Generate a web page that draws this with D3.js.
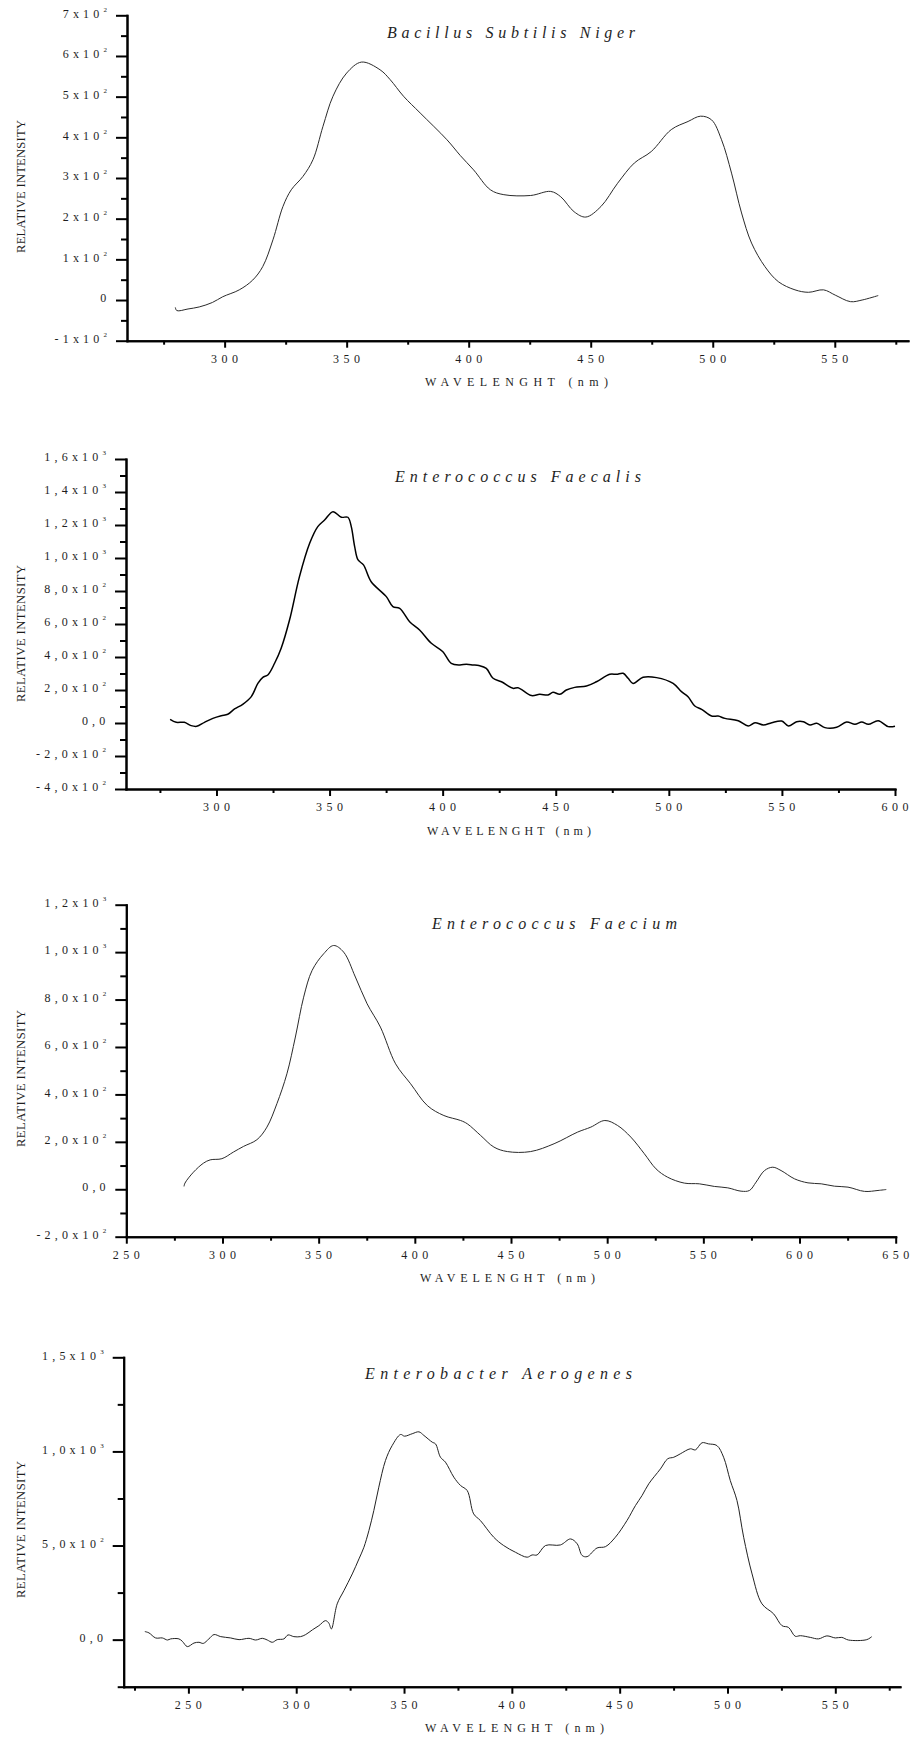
<!DOCTYPE html>
<html>
<head>
<meta charset="utf-8">
<script src="https://cdn.jsdelivr.net/npm/d3@7"></script>
<style>
  body { margin: 0; background: #fff; }
  svg { display: block; background: #fff; }
</style>
</head>
<body>
<svg id="chart" width="921" height="1739"></svg>
<script>
// ---------- Fluorescence emission spectra (wavelength in nm, relative intensity) ----------

// Bacillus Subtilis Niger
const bacillusWl = [279.8, 280.4, 285, 289.6, 295, 299.2, 306, 311.5, 315.6, 319.8, 323.9, 327.3, 332.1, 336.2, 340.3, 344.4, 350, 356.1, 363.7, 367.8, 373.3, 380.1, 391.1, 396.6, 402, 408.9, 414.4, 425.4, 433.6, 437.7, 443.2, 448, 454.2, 461, 467.9, 474.8, 483, 489.9, 495, 499.5, 503.6, 507.7, 511.8, 515.9, 521.4, 526.9, 533.7, 539.2, 545.4, 550.2, 556.4, 561.2, 567.8];
const bacillusI  = [-18, -26, -22, -17, -6, 8, 25, 49, 82, 148, 230, 271, 304, 345, 427, 501, 558, 585, 566, 542, 501, 460, 394, 355, 320, 271, 259, 257, 267, 254, 217, 204, 230, 287, 337, 365, 419, 439, 452, 443, 394, 312, 214, 140, 82, 45, 25, 19, 25, 12, -4, 0, 11];

// Enterococcus Faecalis
const faecalisWl = [279.5, 282.2, 285.8, 288.8, 291.3, 294.7, 298.4, 302.1, 305, 308, 311.6, 315.4, 318.3, 320.5, 322.7, 325.7, 328.6, 332.3, 336.7, 341.2, 344.8, 347.8, 351.5, 355.2, 358.1, 359.6, 361.1, 362.6, 365, 368.4, 375.1, 378, 381, 385.4, 389.8, 395, 400.1, 403.8, 407.5, 410.5, 413.4, 416, 419.3, 422.3, 426, 431.1, 433.3, 439.3, 442.9, 446.6, 448.8, 451.8, 454.7, 458.4, 463.6, 468, 473.9, 476.9, 479.8, 482, 484.2, 488.6, 494.6, 501.9, 505.6, 508.5, 511.5, 514.5, 518.9, 521.8, 524.8, 530.7, 535.1, 538.1, 541.8, 545.5, 549.9, 552.9, 556.5, 559.5, 562.4, 565.4, 569, 574.2, 578.6, 582.3, 585.3, 588.2, 592.6, 597, 600];
const faecalisI  = [22, 4, 4, -16, -20, 4, 28, 44, 53, 85, 113, 160, 240, 277, 291, 362, 453, 624, 887, 1089, 1190, 1230, 1281, 1247, 1247, 1190, 1069, 988, 958, 856, 766, 705, 695, 614, 564, 483, 432, 362, 352, 356, 352, 348, 331, 271, 250, 210, 214, 166, 174, 170, 186, 174, 200, 216, 224, 250, 295, 295, 301, 271, 240, 277, 275, 240, 190, 159, 103, 83, 42, 42, 28, 14, -18, 2, -12, 2, 12, -18, 8, 8, -12, -2, -28, -26, 6, -8, 6, -8, 14, -22, -20];

// Enterococcus Faecium
const faeciumWl = [280, 280.5, 284.9, 290.1, 293.6, 299.7, 305.7, 311, 317.9, 323.1, 328.3, 333.5, 337.9, 342.2, 346.6, 352.6, 357.8, 363, 369.1, 375.2, 382.1, 390, 397.8, 406.5, 415.1, 423.8, 427.3, 434.2, 441.1, 448.1, 460.2, 472.4, 484.6, 491.5, 498.8, 505.4, 512.3, 519.3, 525.4, 531.4, 540.1, 547.9, 555.7, 562.7, 569.6, 574, 577.4, 581.8, 586.1, 590.4, 597.4, 604.4, 611.3, 618.2, 625.2, 633.8, 640.8, 645.1];
const faeciumI  = [12, 26, 72, 110, 124, 129, 157, 181, 209, 262, 361, 487, 642, 810, 923, 993, 1028, 1000, 895, 782, 684, 529, 445, 353, 311, 290, 276, 227, 178, 159, 159, 192, 241, 262, 290, 269, 220, 150, 86, 51, 26, 23, 12, 6, -8, -5, 30, 79, 93, 79, 44, 27, 23, 13, 9, -9, -5, -1];

// Enterobacter Aerogenes
const aerogenesWl = [229.8, 231.7, 234.8, 237.9, 240.3, 241.8, 245.6, 247.2, 249.5, 252.6, 254.9, 256.9, 259.5, 261.9, 265, 269.6, 273.5, 278.1, 281.2, 284.3, 286.6, 288.9, 291.2, 294.3, 296.2, 298.9, 302, 304.4, 307.5, 310.5, 313.6, 315.1, 316.3, 319, 322.1, 326, 329.1, 331.4, 333.7, 336, 338.3, 341.4, 344.5, 348.4, 350.2, 353.8, 356.9, 359.2, 363.1, 364.6, 366.9, 369.2, 373.1, 376.2, 379.3, 382.3, 385.4, 391.6, 396.2, 401.7, 407.1, 409.4, 411.7, 415.6, 422.5, 427.2, 430.3, 432.6, 434.9, 439.5, 443.4, 448, 453.4, 457.3, 460.4, 463.5, 468.9, 472.3, 475.1, 478.1, 482.8, 485.1, 488.2, 491.2, 495.1, 498.2, 501.3, 504.4, 507.5, 511.4, 516, 521.4, 525.3, 528.3, 531.4, 533.8, 538.4, 542.2, 546.1, 550, 553, 556.1, 564.6, 566.9];
const aerogenesI  = [43, 36, 9, 9, -2, 4, 4, -9, -37, -18, -14, -20, 4, 27, 16, 9, 0, 7, -2, 7, -2, -14, 0, 4, 25, 16, 16, 27, 52, 74, 101, 88, 57, 190, 260, 349, 429, 491, 579, 686, 810, 952, 1031, 1090, 1081, 1094, 1104, 1085, 1049, 1040, 969, 943, 863, 819, 792, 668, 633, 544, 500, 464, 438, 450, 450, 500, 503, 535, 509, 447, 441, 487, 494, 544, 633, 712, 766, 828, 907, 961, 969, 987, 1014, 1008, 1046, 1040, 1031, 969, 845, 739, 544, 349, 190, 137, 74, 65, 18, 21, 12, 4, 20, 9, 12, -2, 0, 16];

// ---------- Axis ticks and tick labels ----------
const bacillusXTicks = [300, 350, 400, 450, 500, 550];
const bacillusXMinor = [275, 325, 375, 425, 475, 525, 575];
const bacillusYTicks = [-100, 0, 100, 200, 300, 400, 500, 600, 700];
const bacillusYMinor = [-50, 50, 150, 250, 350, 450, 550, 650];
const bacillusYLabels = ["-1x10^2", "0", "1x10^2", "2x10^2", "3x10^2", "4x10^2", "5x10^2", "6x10^2", "7x10^2"];

const faecalisXTicks = [300, 350, 400, 450, 500, 550, 600];
const faecalisXMinor = [275, 325, 375, 425, 475, 525, 575];
const faecalisYTicks = [-400, -200, 0, 200, 400, 600, 800, 1000, 1200, 1400, 1600];
const faecalisYMinor = [-300, -100, 100, 300, 500, 700, 900, 1100, 1300, 1500];
const faecalisYLabels = ["-4,0x10^2", "-2,0x10^2", "0,0", "2,0x10^2", "4,0x10^2", "6,0x10^2", "8,0x10^2", "1,0x10^3", "1,2x10^3", "1,4x10^3", "1,6x10^3"];

const faeciumXTicks = [250, 300, 350, 400, 450, 500, 550, 600, 650];
const faeciumXMinor = [275, 325, 375, 425, 475, 525, 575, 625];
const faeciumYTicks = [-200, 0, 200, 400, 600, 800, 1000, 1200];
const faeciumYMinor = [-100, 100, 300, 500, 700, 900, 1100];
const faeciumYLabels = ["-2,0x10^2", "0,0", "2,0x10^2", "4,0x10^2", "6,0x10^2", "8,0x10^2", "1,0x10^3", "1,2x10^3"];

const aerogenesXTicks = [250, 300, 350, 400, 450, 500, 550];
const aerogenesXMinor = [225, 275, 325, 375, 425, 475, 525, 575];
const aerogenesYTicks = [0, 500, 1000, 1500];
const aerogenesYMinor = [-250, 250, 750, 1250];
const aerogenesYLabels = ["0,0", "5,0x10^2", "1,0x10^3", "1,5x10^3"];

const titles = ["Bacillus Subtilis Niger", "Enterococcus Faecalis", "Enterococcus Faecium", "Enterobacter Aerogenes"];
const xAxisTitle = "WAVELENGHT (nm)";
const yAxisTitle = "RELATIVE INTENSITY";

// ---------- Panel layout ----------
const panels = [
  { title: titles[0], wl: bacillusWl, val: bacillusI,
    xDomain: [260, 580], yDomain: [-100, 700],
    xTicks: bacillusXTicks, xMinor: bacillusXMinor, yTicks: bacillusYTicks, yMinor: bacillusYMinor, yLabels: bacillusYLabels,
    left: 127, right: 908, top: 15.3, bottom: 340.7,
    titleX: 387, titleY: 37.5, titleW: 248,
    xTitleX: 425, xTitleW: 183, yTitleBottom: 253, yTitleW: 133,
    stroke: "#2a2a2a", width: 1 },
  { title: titles[1], wl: faecalisWl, val: faecalisI,
    xDomain: [260, 600], yDomain: [-400, 1600],
    xTicks: faecalisXTicks, xMinor: faecalisXMinor, yTicks: faecalisYTicks, yMinor: faecalisYMinor, yLabels: faecalisYLabels,
    left: 126, right: 895, top: 459, bottom: 789,
    titleX: 395, titleY: 481.5, titleW: 246,
    xTitleX: 427, xTitleW: 164, yTitleBottom: 702, yTitleW: 137,
    stroke: "#000", width: 1.5 },
  { title: titles[2], wl: faeciumWl, val: faeciumI,
    xDomain: [250, 650], yDomain: [-200, 1200],
    xTicks: faeciumXTicks, xMinor: faeciumXMinor, yTicks: faeciumYTicks, yMinor: faeciumYMinor, yLabels: faeciumYLabels,
    left: 126.3, right: 895.7, top: 904.7, bottom: 1236.7,
    titleX: 432, titleY: 929, titleW: 245,
    xTitleX: 420, xTitleW: 175, yTitleBottom: 1147, yTitleW: 137,
    stroke: "#2a2a2a", width: 1 },
  { title: titles[3], wl: aerogenesWl, val: aerogenesI,
    xDomain: [220, 580], yDomain: [-250, 1500],
    xTicks: aerogenesXTicks, xMinor: aerogenesXMinor, yTicks: aerogenesYTicks, yMinor: aerogenesYMinor, yLabels: aerogenesYLabels,
    left: 123.7, right: 900, top: 1357.3, bottom: 1686.7,
    titleX: 365, titleY: 1379, titleW: 267,
    xTitleX: 425, xTitleW: 179, yTitleBottom: 1598, yTitleW: 137,
    stroke: "#222", width: 1 }
];

const SERIF = "'Liberation Serif', 'Times New Roman', Times, serif";
const SANS = "'Liberation Sans', Arial, Helvetica, sans-serif";
const INK = "#1e1e1e";

const svg = d3.select("#chart");

// spread letters so the visible run of text covers the given width
function fitWidth(sel, target) {
  const node = sel.node();
  const natural = node.getComputedTextLength();
  const n = sel.text().length;
  const ls = (target - natural) / Math.max(1, n - 1);
  sel.style("letter-spacing", ls + "px");
}

function styleAxis(g) {
  g.select(".domain").attr("stroke", "#000").attr("stroke-width", 2).attr("stroke-linecap", "square");
  g.selectAll(".tick line").attr("stroke", "#000").attr("stroke-width", 2);
  g.selectAll(".tick text").remove();
}

panels.forEach(p => {
  const x = d3.scaleLinear().domain(p.xDomain).range([p.left, p.right]);
  const y = d3.scaleLinear().domain(p.yDomain).range([p.bottom, p.top]);
  const g = svg.append("g");

  // spectrum line
  const pts = p.wl.map((w, i) => [w, p.val[i]]);
  g.append("path")
    .datum(pts)
    .attr("fill", "none")
    .attr("stroke", p.stroke)
    .attr("stroke-width", p.width)
    .attr("stroke-linejoin", "round")
    .attr("d", d3.line().x(d => x(d[0])).y(d => y(d[1])).curve(d3.curveCatmullRom.alpha(0.5)));

  // y axis: minor then major ticks
  g.append("g").attr("transform", `translate(${p.left},0)`)
    .call(d3.axisLeft(y).tickValues(p.yMinor).tickSize(6).tickSizeOuter(0).tickFormat(""))
    .call(styleAxis);
  g.append("g").attr("transform", `translate(${p.left},0)`)
    .call(d3.axisLeft(y).tickValues(p.yTicks).tickSize(11).tickSizeOuter(0).tickFormat(""))
    .call(styleAxis);

  // x axis: minor then major ticks
  g.append("g").attr("transform", `translate(0,${p.bottom})`)
    .call(d3.axisBottom(x).tickValues(p.xMinor).tickSize(4).tickSizeOuter(0).tickFormat(""))
    .call(styleAxis);
  g.append("g").attr("transform", `translate(0,${p.bottom})`)
    .call(d3.axisBottom(x).tickValues(p.xTicks).tickSize(7).tickSizeOuter(0).tickFormat(""))
    .call(styleAxis);

  // y tick labels with superscript exponents
  p.yTicks.forEach((v, i) => {
    const [mant, exp] = p.yLabels[i].split("^");
    const t = g.append("text")
      .attr("x", exp ? p.left - 20 : p.left - 16.5)
      .attr("y", y(v) + 2.2)
      .attr("text-anchor", "end")
      .style("font-family", SERIF)
      .style("font-size", "12px")
      .attr("fill", INK);
    t.append("tspan").style("letter-spacing", "4.2px").text(mant);
    if (exp) t.append("tspan").attr("dy", -6).style("font-size", "7px").text(exp);
  });

  // x tick labels
  p.xTicks.forEach(v => {
    g.append("text")
      .attr("x", x(v) + 2.2)
      .attr("y", p.bottom + 22)
      .attr("text-anchor", "middle")
      .style("font-family", SERIF)
      .style("font-size", "12px")
      .style("letter-spacing", "4.5px")
      .attr("fill", INK)
      .text(v);
  });

  // x axis title
  const xt = g.append("text")
    .attr("x", p.xTitleX)
    .attr("y", p.bottom + 45.5)
    .style("font-family", SERIF)
    .style("font-size", "12px")
    .attr("fill", INK)
    .text(xAxisTitle);
  fitWidth(xt, p.xTitleW);

  // y axis title
  const yt = g.append("text")
    .attr("transform", `translate(24.5,${p.yTitleBottom}) rotate(-90)`)
    .style("font-family", SERIF)
    .style("font-size", "12.5px")
    .attr("fill", INK)
    .text(yAxisTitle);
  fitWidth(yt, p.yTitleW);

  // panel title (italic, spaced letters)
  const tt = g.append("text")
    .attr("x", p.titleX)
    .attr("y", p.titleY)
    .style("font-family", SERIF)
    .style("font-style", "italic")
    .style("font-size", "16px")
    .attr("fill", INK)
    .text(p.title);
  fitWidth(tt, p.titleW);
});
</script>
</body>
</html>
